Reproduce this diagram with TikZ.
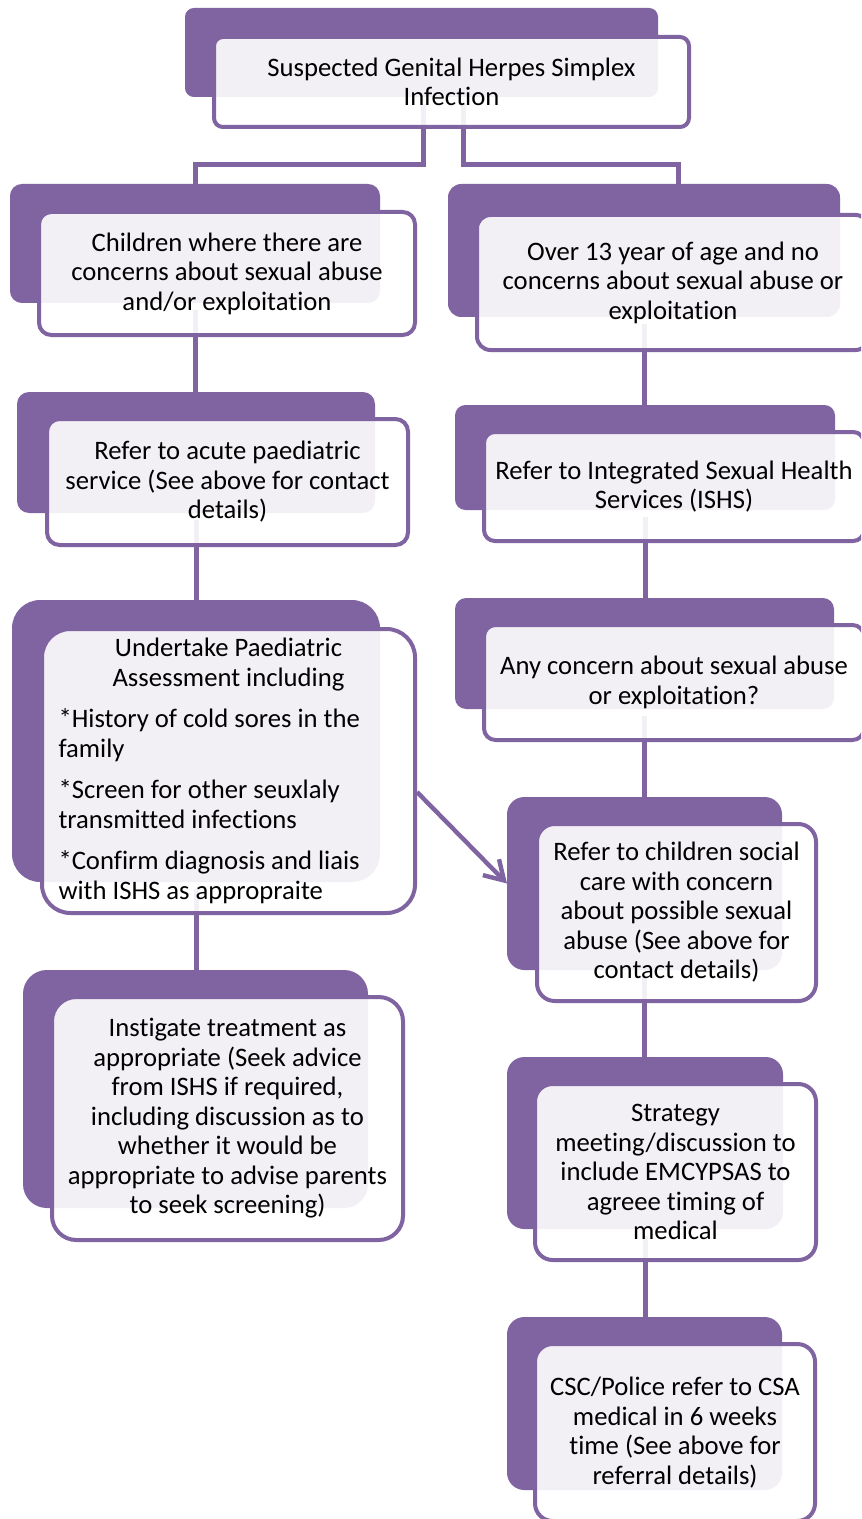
\documentclass[tikz,border=0pt]{standalone}
\usepackage{fontspec}
\setmainfont[Ligatures=NoCommon]{Carlito}
\usetikzlibrary{arrows.meta}
\definecolor{smpurple}{HTML}{8064A2}
\newcommand\flowfont{\fontsize{20}{22.1}\selectfont}
\tikzset{
  backbox/.style 2 args={fill=smpurple, draw=none, rounded corners={min(#1,#2)*0.075pt},
    minimum width=#1*0.75pt, minimum height=#2*0.75pt, inner sep=0pt, outer sep=0pt},
  frontbox/.style 2 args={draw=smpurple, line width=3pt, fill=white, fill opacity=0.9, text opacity=1,
    rounded corners={min(#1,#2)*0.075pt}, minimum width=#1*0.75pt, minimum height=#2*0.75pt,
    inner sep=0pt, align=center, font=\flowfont, text=black},
  conn/.style={draw=smpurple, line width=3.75pt, shorten <=5pt},
  arr/.style={draw=smpurple, line width=3.3pt, -{Straight Barb[length=14pt,width=17pt]}},
}
\begin{document}
\begin{tikzpicture}[x=0.75pt,y=-0.75pt]
\useasboundingbox (0,0) rectangle (861,1519);
\clip (0,0) rectangle (861,1519);
\fill[white] (0,0) rectangle (861,1519);
% back rectangles
\node[backbox={473}{89}] (topb) at (421.5,52.5) {};
\node[backbox={370}{119}] (L1b) at (195,243.5) {};
\node[backbox={392}{133}] (R1b) at (644,250.5) {};
\node[backbox={358}{121}] (L2b) at (196,452.5) {};
\node[backbox={380}{105}] (R2b) at (645,457.5) {};
\node[backbox={368}{282}] (L3b) at (196,741) {};
\node[backbox={379}{111}] (R3b) at (644.5,653.5) {};
\node[backbox={275}{173}] (R4b) at (644.5,883.5) {};
\node[backbox={345}{238}] (L4b) at (195.5,1089) {};
\node[backbox={276}{172}] (R5b) at (645,1143) {};
\node[backbox={275}{173}] (R6b) at (644.5,1403.5) {};
% connectors
\draw[conn] ([xshift=1.125pt]topb.south) -- ++(0,68) -| (L1b.north);
\draw[conn] ([xshift=31.125pt]topb.south) -- ++(0,68) -| ([xshift=25.5pt]R1b.north);
\draw[conn] (L1b.south) -- (L1b.south |- L2b.north);
\draw[conn] (L2b.south) -- (L2b.south |- L3b.north);
\draw[conn] (L3b.south) -- (L3b.south |- L4b.north);
\draw[conn] (R1b.south) -- (R1b.south |- R2b.north);
\draw[conn] (R2b.south) -- (R2b.south |- R3b.north);
\draw[conn] (R3b.south) -- (R3b.south |- R4b.north);
\draw[conn] (R4b.south) -- (R4b.south |- R5b.north);
\draw[conn] (R5b.south) -- (R5b.south |- R6b.north);
% front boxes
\node[frontbox={475}{90}] (topf) at (451.5,82) {Suspected Genital Herpes Simplex\\Infection};
\node[frontbox={376}{123}] (L1f) at (227,273.5) {Children where there are\\concerns about sexual abuse\\and/or exploitation};
\node[frontbox={392}{135}] (R1f) at (673,282.5) {Over 13 year of age and no\\concerns about sexual abuse or\\exploitation};
\node[frontbox={361}{126}] (L2f) at (227.5,482) {Refer to acute paediatric\\service (See above for contact\\details)};
\node[frontbox={380}{109}] (R2f) at (674,486.5) {Refer to Integrated Sexual Health\\Services (ISHS)};
\node[frontbox={373}{284}] (L3f) at (228.5,771) {\begin{minipage}{255pt}\setlength{\parskip}{9pt}\centering Undertake Paediatric\\Assessment including\par\raggedright *History of cold sores in the\\family\par *Screen for other seuxlaly\\transmitted infections\par *Confirm diagnosis and liais\\with ISHS as appropraite\end{minipage}};
\node[frontbox={380}{115}] (R3f) at (674,682.5) {Any concern about sexual abuse\\or exploitation?};
\node[frontbox={279}{177}] (R4f) at (676.5,912.5) {Refer to children social\\care with concern\\about possible sexual\\abuse (See above for\\contact details)};
\node[frontbox={351}{243}] (L4f) at (227.5,1118.5) {Instigate treatment as\\appropriate (Seek advice\\from ISHS if required,\\including discussion as to\\whether it would be\\appropriate to advise parents\\to seek screening)};
\node[frontbox={281}{176}] (R5f) at (675.5,1172) {Strategy\\meeting/discussion to\\include EMCYPSAS to\\agreee timing of\\medical};
\node[frontbox={280}{177}] (R6f) at (675,1432.5) {CSC/Police refer to CSA\\medical in 6 weeks\\time (See above for\\referral details)};
% arrow
\draw[arr] ([yshift=-15.75pt]L3f.east) -- (R4b.west);
\end{tikzpicture}
\end{document}
